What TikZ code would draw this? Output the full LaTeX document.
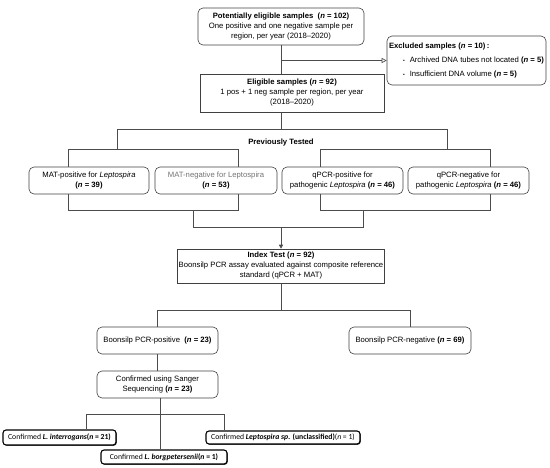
\documentclass[tikz,border=0pt]{standalone}
\usepackage{fontspec}
\setmainfont{Liberation Sans}
\newfontfamily\calfont{Carlito}
\usetikzlibrary{arrows.meta,shadows}

\newcommand{\nn}[1]{\textbf{(\textit{n} = #1)}}

\tikzset{
  rbox/.style={draw=black!75, rounded corners=5pt, line width=0.6pt, align=center,
    inner sep=1pt, font=\fontsize{7.7}{10}\selectfont},
  sbox/.style={draw=black!75, line width=0.6pt, align=center, inner sep=1pt,
    font=\fontsize{7.7}{10}\selectfont},
  spbox/.style={draw=black, fill=white, rounded corners=3pt, line width=1.1pt, inner sep=1pt,
    drop shadow={shadow xshift=0.8pt, shadow yshift=-0.8pt, fill=black!70, opacity=1},
    font=\calfont\fontsize{7.7}{9}\selectfont},
  link/.style={draw=black!70, line width=0.6pt},
}

\begin{document}
\begin{tikzpicture}[x=1pt, y=-1pt]
  \useasboundingbox (0,0) rectangle (550,467);

  % screening
  \node[rbox, minimum width=166, minimum height=37] (top) at (281,26.5)
    {\textbf{Potentially eligible samples\ \ (\textit{n} = 102)}\\
     One positive and one negative sample per\\ region, per year (2018--2020)};
  \node[rbox, align=left, minimum width=159, minimum height=49] (excl) at (466.5,60.5)
    {\textbf{Excluded samples (\textit{n} = 10)\,:}\\[4pt]
     \hspace*{14pt}{\tiny\textbullet}\hspace{5pt}Archived DNA tubes not located \nn{5}\\[4pt]
     \hspace*{14pt}{\tiny\textbullet}\hspace{5pt}Insufficient DNA volume \nn{5}};
  \node[sbox, minimum width=184, minimum height=38] (elig) at (292,93)
    {\textbf{Eligible samples (\textit{n} = 92)}\\
     1 pos + 1 neg sample per region, per year\\ (2018--2020)};

  \draw[link, -{Triangle[open, length=5pt, width=5pt]}] (top.south) |- (excl.west);
  \draw[link] (top.south) -- (top.south |- elig.north);

  % previously tested
  \node[font=\fontsize{7.7}{10}\selectfont\bfseries] (prev) at (281,143) {Previously Tested};
  \node[rbox, minimum width=120, minimum height=27] (matp) at (89,180.5)
    {MAT-positive for \textit{Leptospira}\\ \nn{39}};
  \node[rbox, minimum width=122, minimum height=27] (matn) at (216,180.5)
    {\textcolor{black!55}{MAT-negative for Leptospira}\\ \nn{53}};
  \node[rbox, minimum width=121, minimum height=27] (qpos) at (342.5,180.5)
    {qPCR-positive for\\ pathogenic \textit{Leptospira} \nn{46}};
  \node[rbox, minimum width=121, minimum height=27] (qneg) at (468.5,180.5)
    {qPCR-negative for\\ pathogenic \textit{Leptospira} \nn{46}};

  \coordinate (s1) at (281,129);
  \coordinate (b1) at (117,129);
  \coordinate (b2) at (447,129);
  \coordinate (ml) at (68,149);
  \coordinate (mr) at (238,149);
  \coordinate (ql) at (320,149);
  \coordinate (qr) at (490,149);
  \draw[link] (top.south |- elig.south) -- (s1);
  \draw[link] (b1) -- (b2);
  \draw[link] (b1) -- (b1 |- ml);
  \draw[link] (b2) -- (b2 |- ql);
  \draw[link] (ml |- matp.north) -- (ml) -- (mr) -- (mr |- matn.north);
  \draw[link] (ql |- qpos.north) -- (ql) -- (qr) -- (qr |- qneg.north);

  % merge into index test
  \coordinate (mlb) at (68,210);
  \coordinate (mrb) at (238,210);
  \coordinate (qlb) at (320,210);
  \coordinate (qrb) at (490,210);
  \coordinate (mj) at (193,227);
  \coordinate (qj) at (363,227);
  \draw[link] (ml |- matp.south) -- (mlb) -- (mrb) -- (mr |- matn.south);
  \draw[link] (ql |- qpos.south) -- (qlb) -- (qrb) -- (qr |- qneg.south);
  \draw[link] (mj |- mlb) -- (mj) -- (qj) -- (qj |- qlb);

  \node[sbox, minimum width=206, minimum height=34] (index) at (281,266)
    {\textbf{Index Test (\textit{n} = 92)}\\
     Boonsilp PCR assay evaluated against composite reference\\
     standard (qPCR + MAT)};
  \draw[link, -{Triangle[length=4pt, width=4pt]}] (index.north |- mj) -- (index.north);

  % index test result
  \node[rbox, minimum width=121, minimum height=27] (bpos) at (157.5,340.5)
    {Boonsilp PCR-positive\ \ \nn{23}};
  \node[rbox, minimum width=122, minimum height=27] (bneg) at (410,340.5)
    {Boonsilp PCR-negative \nn{69}};
  \coordinate (rl) at (157.5,310);
  \coordinate (rr) at (410,310);
  \draw[link] (index.south) -- (index.south |- rl);
  \draw[link] (bpos.north) -- (rl) -- (rr) -- (bneg.north);

  \node[rbox, minimum width=121, minimum height=27] (sang) at (157.5,384.5)
    {Confirmed using Sanger\\ Sequencing \nn{23}};
  \draw[link] (bpos.south) -- (sang.north);

  % species confirmed
  \node[spbox, minimum width=113, minimum height=15] (inter) at (59.5,437.5)
    {Confirmed \textbf{\textit{L. interrogans}}\nn{21}};
  \node[spbox, minimum width=126, minimum height=14] (borg) at (164,457)
    {Confirmed \textbf{\textit{L. borgpetersenii}}\nn{1}};
  \node[spbox, minimum width=154, minimum height=13] (lsp) at (283,437.5)
    {Confirmed \textbf{\textit{Leptospira sp.}} \textbf{(unclassified)}(\textit{n} = 1)};

  \coordinate (cl) at (86,414);
  \coordinate (cm) at (160,414);
  \coordinate (cr) at (224,414);
  \draw[link] (cm |- sang.south) -- (cm |- borg.north);
  \draw[link] (cl |- inter.north) -- (cl) -- (cr) -- (cr |- lsp.north);

\end{tikzpicture}
\end{document}
